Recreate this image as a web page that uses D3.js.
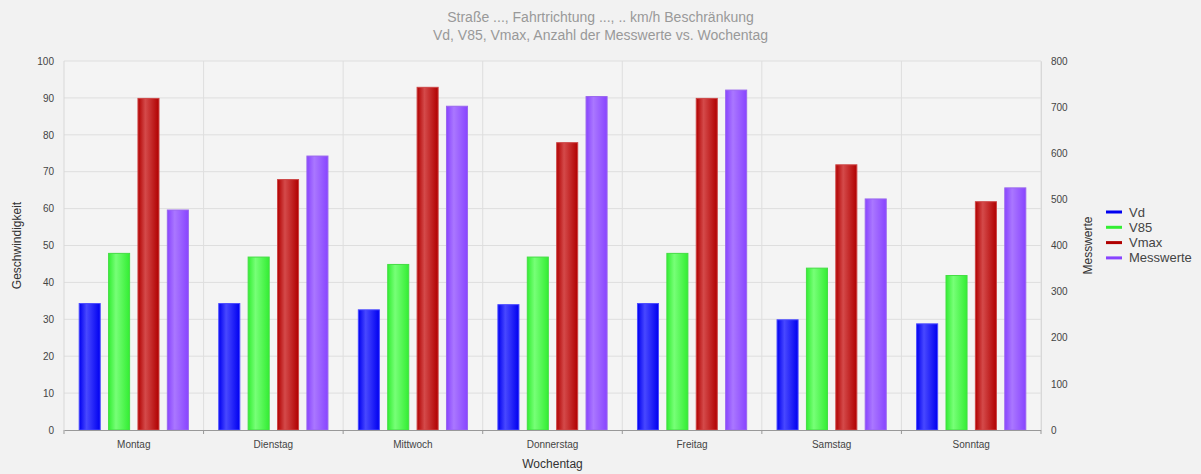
<!DOCTYPE html>
<html>
<head>
<meta charset="utf-8">
<script src="https://cdn.jsdelivr.net/npm/d3@7"></script>
<style>
  body { margin: 0; background: #f2f2f2; }
  svg { display: block; font-family: "Liberation Sans", Arial, sans-serif; }
</style>
</head>
<body>
<svg id="chart"></svg>
<script>
let width = 1201;
let height = 474;

// data
let days = ['Montag', 'Dienstag', 'Mittwoch', 'Donnerstag', 'Freitag', 'Samstag', 'Sonntag'];
let vd = [34.4, 34.4, 32.7, 34.1, 34.4, 30.0, 28.9];
let v85 = [48, 47, 45, 47, 48, 44, 42];
let vmax = [90, 68, 93, 78, 90, 72, 62];
let messwerte = [478, 595, 703, 724, 738, 502, 526];
let leftTicks = [0, 10, 20, 30, 40, 50, 60, 70, 80, 90, 100];
let rightTicks = [0, 100, 200, 300, 400, 500, 600, 700, 800];

let series = [
  { name: 'Vd', values: vd, axis: 'left', dark: '#0000f0', light: '#4848ff', stroke: '#4a4aff' },
  { name: 'V85', values: v85, axis: 'left', dark: '#33ee33', light: '#77ff77', stroke: '#44dd44' },
  { name: 'Vmax', values: vmax, axis: 'left', dark: '#b00000', light: '#d44a4a', stroke: '#cc4444' },
  { name: 'Messwerte', values: messwerte, axis: 'right', dark: '#8844ff', light: '#aa77ff', stroke: '#9966ee' }
];

let margin = { top: 61, right: 160, bottom: 44, left: 64 };

let svg = d3.select('#chart')
  .attr('width', width)
  .attr('height', height);

let x = d3.scaleBand()
  .domain(days)
  .range([margin.left, width - margin.right])
  .paddingInner(0)
  .paddingOuter(0);

let xInner = d3.scaleBand()
  .domain(series.map(s => s.name))
  .range([0, x.bandwidth()])
  .paddingInner(0.25)
  .paddingOuter(0.5);

let yLeft = d3.scaleLinear()
  .domain([0, 100])
  .range([height - margin.bottom, margin.top]);

let yRight = d3.scaleLinear()
  .domain([0, 800])
  .range([height - margin.bottom, margin.top]);

// gradients for the bars
let defs = svg.append('defs');
series.forEach((s, i) => {
  let g = defs.append('linearGradient')
    .attr('id', 'grad' + i)
    .attr('x1', '0%').attr('x2', '100%')
    .attr('y1', '0%').attr('y2', '0%');
  g.append('stop').attr('offset', '0%').attr('stop-color', s.dark);
  g.append('stop').attr('offset', '35%').attr('stop-color', s.light);
  g.append('stop').attr('offset', '100%').attr('stop-color', s.dark);
});

// plot background
svg.append('rect')
  .attr('x', margin.left)
  .attr('y', margin.top)
  .attr('width', width - margin.right - margin.left)
  .attr('height', height - margin.bottom - margin.top)
  .attr('fill', '#f4f4f4');

// horizontal grid
svg.append('g')
  .selectAll('line')
  .data(leftTicks.slice(1))
  .enter()
  .append('line')
  .attr('x1', margin.left)
  .attr('x2', width - margin.right)
  .attr('y1', d => yLeft(d))
  .attr('y2', d => yLeft(d))
  .attr('stroke', '#dedede')
  .attr('stroke-width', 1);

// vertical grid between days
svg.append('g')
  .selectAll('line')
  .data(days)
  .enter()
  .append('line')
  .attr('x1', d => x(d) + x.bandwidth())
  .attr('x2', d => x(d) + x.bandwidth())
  .attr('y1', margin.top)
  .attr('y2', height - margin.bottom)
  .attr('stroke', '#dedede')
  .attr('stroke-width', 1);

// left / right axis lines
svg.append('line')
  .attr('x1', margin.left).attr('x2', margin.left)
  .attr('y1', margin.top).attr('y2', height - margin.bottom)
  .attr('stroke', '#d8d8d8');

// bars
let groups = svg.append('g')
  .selectAll('g')
  .data(days)
  .enter()
  .append('g')
  .attr('transform', d => `translate(${x(d)},0)`);

series.forEach((s, i) => {
  let y = s.axis === 'left' ? yLeft : yRight;
  groups.append('rect')
    .attr('x', xInner(s.name) + 0.5)
    .attr('y', (d, j) => y(s.values[j]) + 0.5)
    .attr('width', xInner.bandwidth() - 1)
    .attr('height', (d, j) => y(0) - y(s.values[j]) - 0.5)
    .attr('fill', 'url(#grad' + i + ')')
    .attr('stroke', s.stroke)
    .attr('stroke-width', 1);
});

// x axis
let xAxis = d3.axisBottom(x).tickSize(0).tickPadding(11);
let gx = svg.append('g')
  .attr('transform', `translate(0,${height - margin.bottom})`)
  .call(xAxis);
gx.select('.domain').attr('stroke', '#999');
gx.selectAll('text').attr('fill', '#444').attr('font-size', 10);

// x tick marks at band edges
svg.append('g')
  .selectAll('line')
  .data([0].concat(days.map(d => x(d) + x.bandwidth())))
  .enter()
  .append('line')
  .attr('x1', (d, i) => i === 0 ? margin.left : d)
  .attr('x2', (d, i) => i === 0 ? margin.left : d)
  .attr('y1', height - margin.bottom)
  .attr('y2', height - margin.bottom + 4)
  .attr('stroke', '#999');

// left y axis
let gl = svg.append('g')
  .attr('transform', `translate(${margin.left},0)`)
  .call(d3.axisLeft(yLeft).tickValues(leftTicks).tickSize(0).tickPadding(10));
gl.select('.domain').remove();
gl.selectAll('text').attr('fill', '#444').attr('font-size', 10);

// right y axis
let gr = svg.append('g')
  .attr('transform', `translate(${width - margin.right},0)`)
  .call(d3.axisRight(yRight).tickValues(rightTicks).tickSize(0).tickPadding(10));
gr.select('.domain').attr('stroke', '#d8d8d8');
gr.selectAll('text').attr('fill', '#444').attr('font-size', 10);

// axis titles
svg.append('text')
  .attr('transform', `translate(21,${(margin.top + height - margin.bottom) / 2}) rotate(-90)`)
  .attr('text-anchor', 'middle')
  .attr('font-size', 12)
  .attr('fill', '#333')
  .text('Geschwindigkeit');

svg.append('text')
  .attr('transform', `translate(1092,${(margin.top + height - margin.bottom) / 2}) rotate(-90)`)
  .attr('text-anchor', 'middle')
  .attr('font-size', 12)
  .attr('fill', '#333')
  .text('Messwerte');

svg.append('text')
  .attr('x', (margin.left + width - margin.right) / 2)
  .attr('y', 468)
  .attr('text-anchor', 'middle')
  .attr('font-size', 12)
  .attr('fill', '#333')
  .text('Wochentag');

// title
svg.append('text')
  .attr('x', width / 2)
  .attr('y', 22)
  .attr('text-anchor', 'middle')
  .attr('font-size', 14)
  .attr('fill', '#999')
  .text('Straße ..., Fahrtrichtung ..., .. km/h Beschränkung');

svg.append('text')
  .attr('x', width / 2)
  .attr('y', 40)
  .attr('text-anchor', 'middle')
  .attr('font-size', 14)
  .attr('fill', '#999')
  .text('Vd, V85, Vmax, Anzahl der Messwerte vs. Wochentag');

// legend
let legend = svg.append('g')
  .selectAll('g')
  .data(series)
  .enter()
  .append('g')
  .attr('transform', (d, i) => `translate(1106,${212 + i * 15.3})`);

legend.append('line')
  .attr('x1', 0).attr('x2', 16)
  .attr('y1', 0).attr('y2', 0)
  .attr('stroke', d => d.dark)
  .attr('stroke-width', 3);

legend.append('text')
  .attr('x', 23)
  .attr('y', 4.5)
  .attr('font-size', 13)
  .attr('fill', '#444')
  .text(d => d.name);
</script>
</body>
</html>
